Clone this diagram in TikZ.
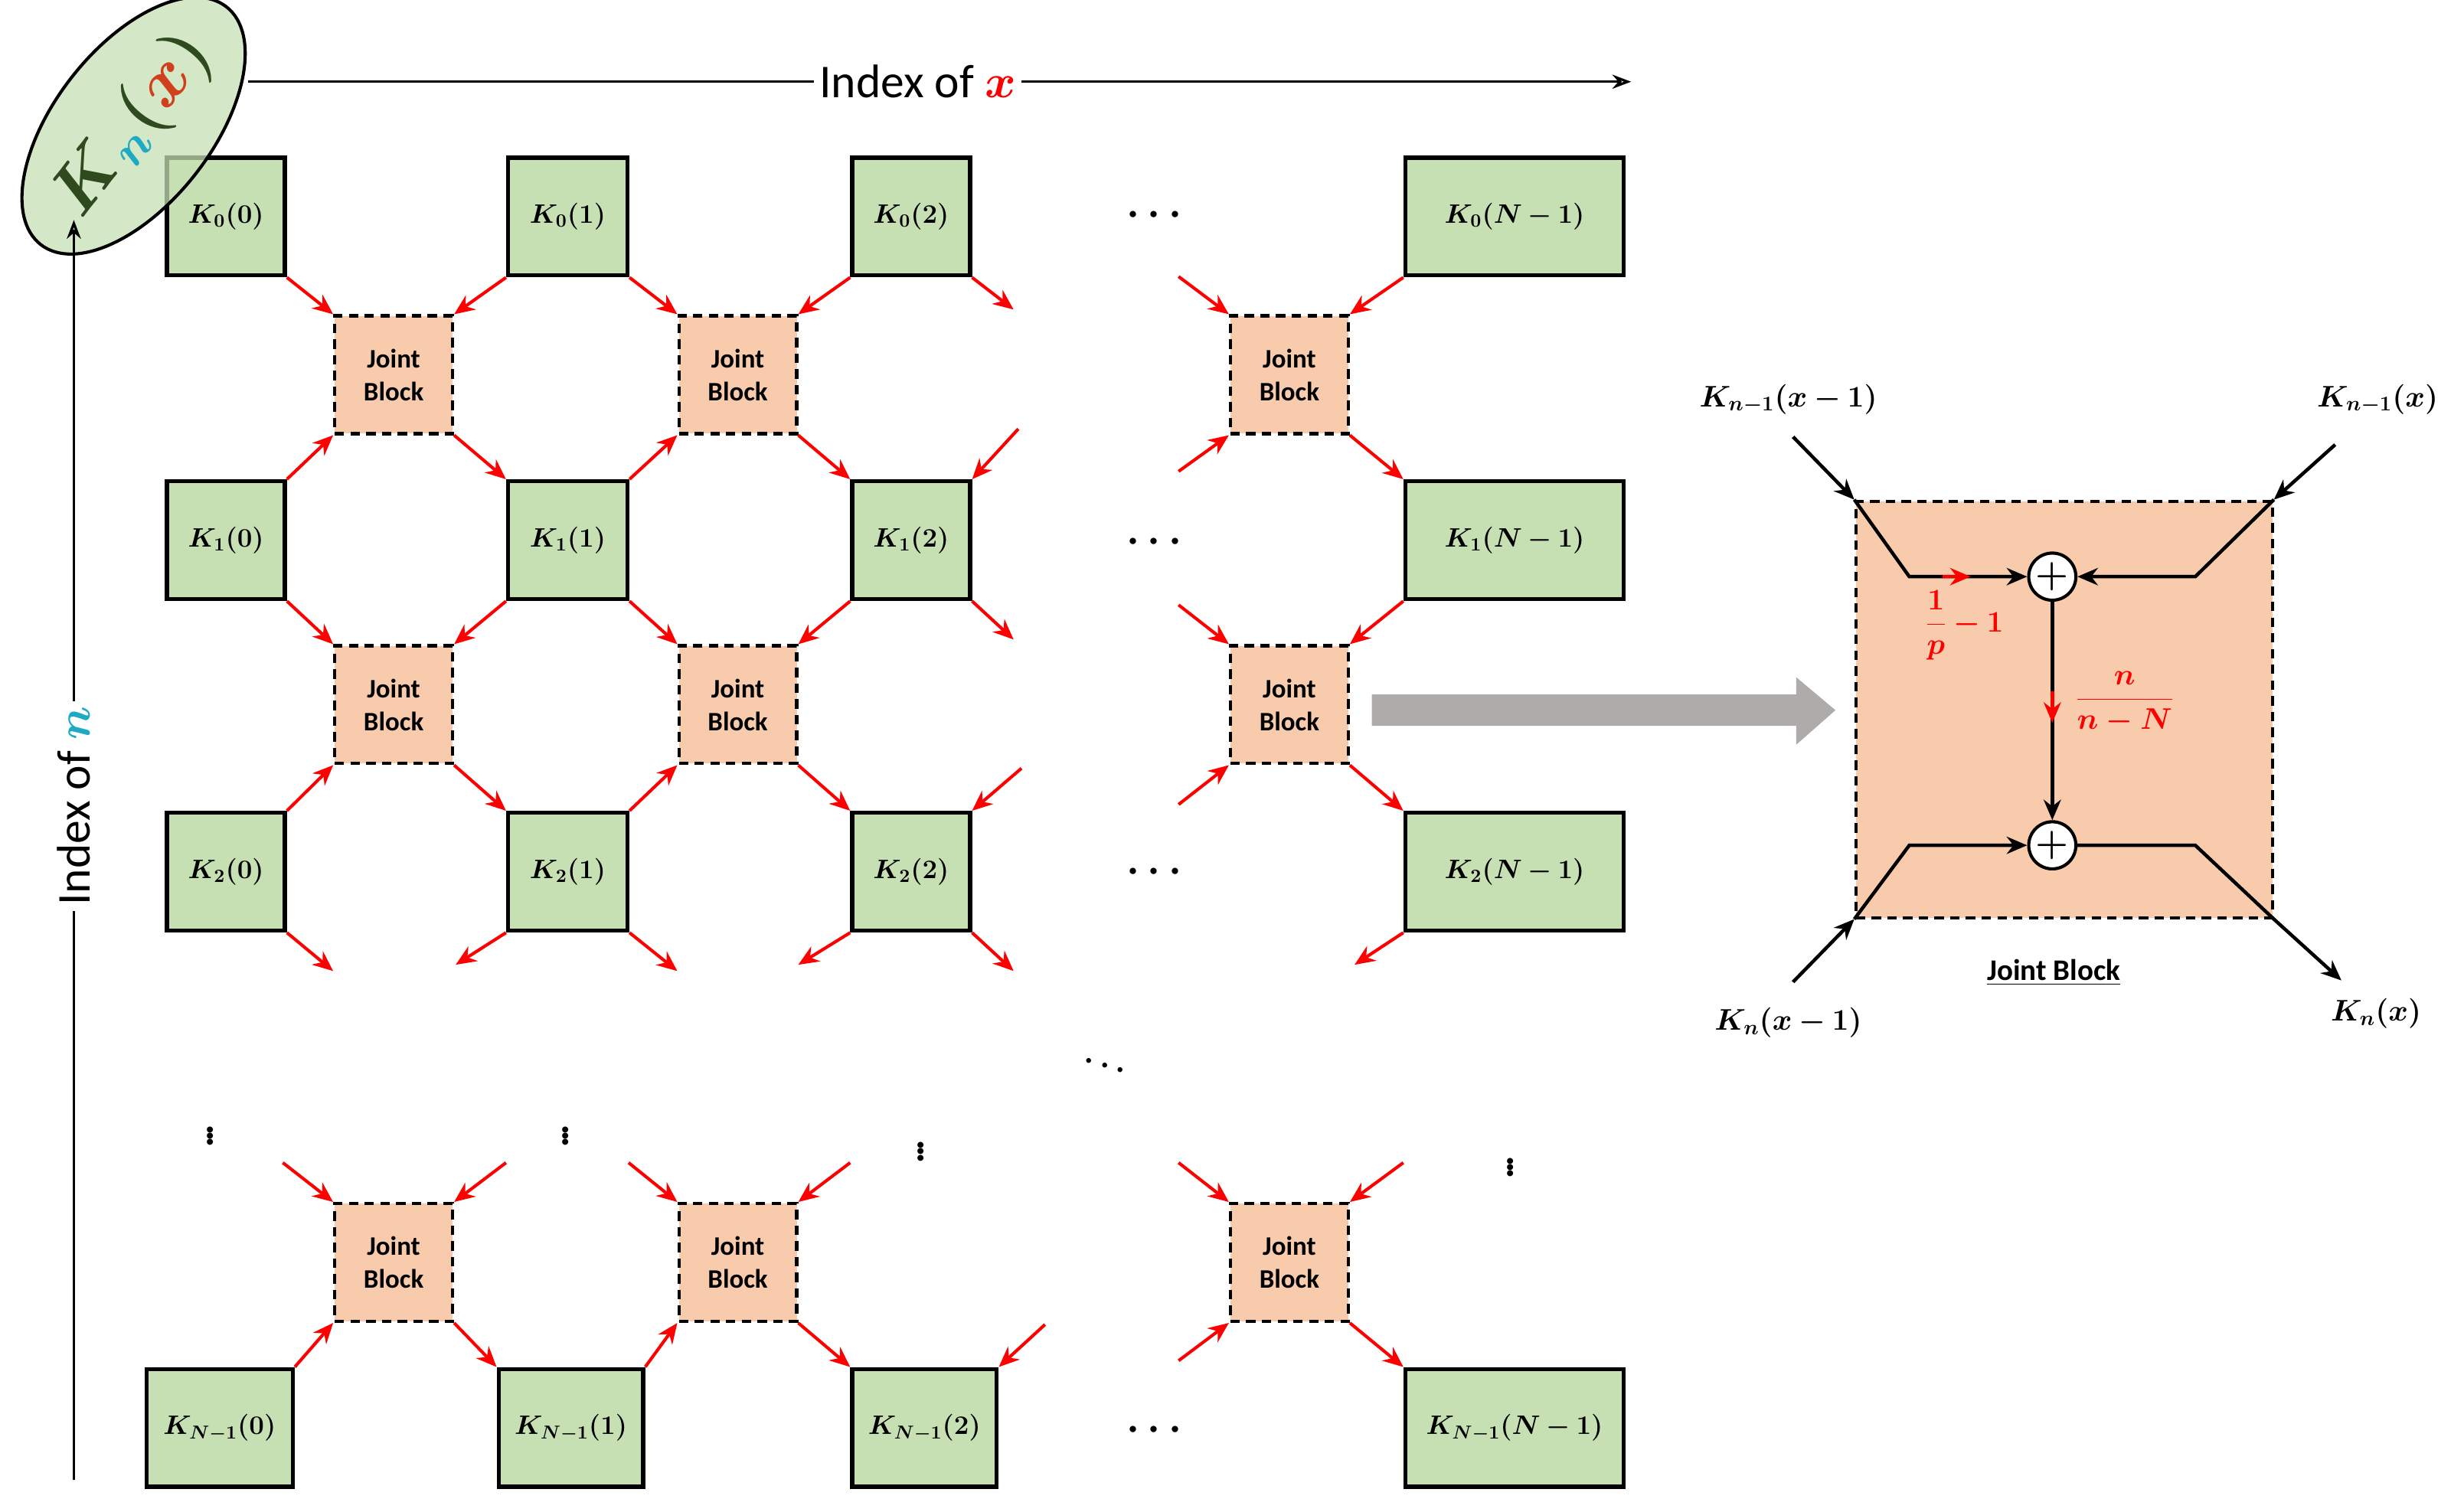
\RequirePackage{fix-cm}
\documentclass[tikz,border=0pt]{standalone}
\usepackage{amsmath,bm}
\usepackage{fontspec}
\setmainfont{Carlito}
\usetikzlibrary{arrows.meta,shapes.geometric}
\definecolor{gbox}{HTML}{C6E0B4}
\definecolor{obox}{HTML}{F8CBAD}
\definecolor{kgreen}{HTML}{2E4A1E}
\definecolor{kcyan}{HTML}{1FAAC4}
\definecolor{kred}{HTML}{D0401C}
\definecolor{garr}{HTML}{AFABAB}
\begin{document}
\begin{tikzpicture}[x=1pt,y=-1pt,
  gb/.style={draw,line width=2.6pt,fill=gbox,anchor=north west,inner sep=0pt,font=\fontsize{17}{20}\selectfont},
  jb/.style={draw,line width=2pt,dashed,dash pattern=on 6pt off 4pt,fill=obox,anchor=north west,minimum width=75pt,minimum height=75pt,inner sep=0pt,align=center,font=\bfseries\fontsize{17}{21}\selectfont},
  ra/.style={red,line width=2pt,-{Stealth[length=13pt,width=11pt]}},
  ba/.style={black,line width=2.2pt,-{Stealth[length=13pt,width=11pt]}},
  bl/.style={black,line width=2.2pt},
  dt/.style={font=\fontsize{26}{26}\selectfont,inner sep=0pt},
  sm/.style={draw,circle,line width=2pt,fill=white,minimum size=30pt,inner sep=0pt,font=\fontsize{24}{24}\selectfont}]
\useasboundingbox (0,0) rectangle (1568,962);
% boxes
\foreach \r/\y in {0/99,1/305,2/516}{
  \node[gb,minimum width=75pt,minimum height=75pt] (b\r0) at (105,\y) {$\bm{K_{\r}(0)}$};
  \node[gb,minimum width=76pt,minimum height=75pt] (b\r1) at (322,\y) {$\bm{K_{\r}(1)}$};
  \node[gb,minimum width=75pt,minimum height=75pt] (b\r2) at (541,\y) {$\bm{K_{\r}(2)}$};
  \node[gb,minimum width=139pt,minimum height=75pt] (b\r3) at (893,\y) {$\bm{K_{\r}(N-1)}$};
}
\node[gb,minimum width=93pt,minimum height=75pt] (b30) at (92,870) {$\bm{K_{N-1}(0)}$};
\node[gb,minimum width=92pt,minimum height=75pt] (b31) at (316,870) {$\bm{K_{N-1}(1)}$};
\node[gb,minimum width=92pt,minimum height=75pt] (b32) at (541,870) {$\bm{K_{N-1}(2)}$};
\node[gb,minimum width=139pt,minimum height=75pt] (b33) at (893,870) {$\bm{K_{N-1}(N-1)}$};
% joint blocks
\foreach \r/\y in {0/200,1/410,2/765}{
  \node[jb] (j\r0) at (212,\y) {Joint\\Block};
  \node[jb] (j\r1) at (431,\y) {Joint\\Block};
  \node[jb] (j\r2) at (782,\y) {Joint\\Block};
}
% row 0/1 joints
\foreach \r/\s in {0/1,1/2}{
  \draw[ra] (b\r0.south east) -- (j\r0.north west);
  \draw[ra] (b\r1.south west) -- (j\r0.north east);
  \draw[ra] (b\s0.north east) -- (j\r0.south west);
  \draw[ra] (j\r0.south east) -- (b\s1.north west);
  \draw[ra] (b\r1.south east) -- (j\r1.north west);
  \draw[ra] (b\r2.south west) -- (j\r1.north east);
  \draw[ra] (b\s1.north east) -- (j\r1.south west);
  \draw[ra] (j\r1.south east) -- (b\s2.north west);
  \draw[ra] (b\r3.south west) -- (j\r2.north east);
  \draw[ra] (j\r2.south east) -- (b\s3.north west);
}
\coordinate (f1) at (645,197); \coordinate (f2) at (750,176);
\coordinate (f3) at (648,273); \coordinate (f4) at (750,300);
\coordinate (f5) at (645,407); \coordinate (f6) at (750,385);
\coordinate (f7) at (650,489); \coordinate (f8) at (750,512);
\draw[ra] (b02.south east) -- (f1); \draw[ra] (f2) -- (j02.north west);
\draw[ra] (f3) -- (b12.north east); \draw[ra] (f4) -- (j02.south west);
\draw[ra] (b12.south east) -- (f5); \draw[ra] (f6) -- (j12.north west);
\draw[ra] (f7) -- (b22.north east); \draw[ra] (f8) -- (j12.south west);
% below row 2
\coordinate (g1) at (212,618); \coordinate (g2) at (290,614);
\coordinate (g3) at (431,618); \coordinate (g4) at (508,614);
\coordinate (g5) at (645,618); \coordinate (g6) at (862,614);
\draw[ra] (b20.south east) -- (g1); \draw[ra] (b21.south west) -- (g2);
\draw[ra] (b21.south east) -- (g3); \draw[ra] (b22.south west) -- (g4);
\draw[ra] (b22.south east) -- (g5); \draw[ra] (b23.south west) -- (g6);
% bottom row joints
\coordinate (h1) at (180,740); \coordinate (h2) at (322,740);
\coordinate (h3) at (400,740); \coordinate (h4) at (541,740);
\coordinate (h5) at (750,740); \coordinate (h6) at (893,740);
\coordinate (h7) at (665,843); \coordinate (h8) at (750,866);
\draw[ra] (h1) -- (j20.north west); \draw[ra] (h2) -- (j20.north east);
\draw[ra] (h3) -- (j21.north west); \draw[ra] (h4) -- (j21.north east);
\draw[ra] (h5) -- (j22.north west); \draw[ra] (h6) -- (j22.north east);
\draw[ra] (b30.north east) -- (j20.south west); \draw[ra] (j20.south east) -- (b31.north west);
\draw[ra] (b31.north east) -- (j21.south west); \draw[ra] (j21.south east) -- (b32.north west);
\draw[ra] (h7) -- (b32.north east); \draw[ra] (h8) -- (j22.south west);
\draw[ra] (j22.south east) -- (b33.north west);
% dots
\foreach \y/\n in {137/d0,345/d1,555/d2,910/d3}{\node[dt] (\n) at (737,\y) {$\bm{\cdots}$};}
\node[dt] (v0) at (134,720) {$\bm{\vdots}$};
\node[dt] (v1) at (360,720) {$\bm{\vdots}$};
\node[dt] (v2) at (586,730) {$\bm{\vdots}$};
\node[dt] (v3) at (961,740) {$\bm{\vdots}$};
\node[dt] (dd) at (703,675) {$\bm{\ddots}$};
% ellipse
\node[ellipse,draw,line width=2pt,fill=gbox,fill opacity=0.75,text opacity=1,minimum width=185pt,minimum height=100pt,rotate=52,inner sep=0pt,font=\fontsize{44}{44}\selectfont] (el) at (85,80)
  {$\textcolor{kgreen}{\bm{K}}_{\textcolor{kcyan}{\bm{n}}}\textcolor{kgreen}{\bm{(}}\textcolor{kred}{\bm{x}}\textcolor{kgreen}{\bm{)}}$};
% index axes
\coordinate (xs) at (158,52); \coordinate (xe) at (1038,52);
\node[font=\fontsize{30}{32}\selectfont] (ix) at (584,52) {Index of \textcolor{red}{$\bm{x}$}};
\draw[line width=1.6pt] (xs) -- (ix.west);
\draw[line width=1.6pt,-{Stealth[length=12pt,width=9pt,open]}] (ix.east) -- (xe);
\coordinate (ns) at (47,942); \coordinate (ne) at (47,140);
\node[font=\fontsize{30}{32}\selectfont,rotate=90] (in) at (47,513) {Index of \textcolor{kcyan}{$\bm{n}$}};
\draw[line width=1.6pt] (ns) -- (in.west);
\draw[line width=1.6pt,-{Stealth[length=12pt,width=9pt,open]}] (in.east) -- (ne);
% grey arrow
\fill[garr] (873,442) -- (1143,442) -- (1143,431) -- (1168,452) -- (1143,474) -- (1143,462) -- (873,462) -- cycle;
% detail
\node[draw,dashed,dash pattern=on 6pt off 4pt,line width=2pt,fill=obox,anchor=north west,minimum width=265pt,minimum height=265pt,inner sep=0pt] (db) at (1180,318) {};
\node[sm] (s1) at (1306,367) {$\bm{+}$};
\node[sm] (s2) at (1306,538) {$\bm{+}$};
\node[font=\fontsize{19}{20}\selectfont] (l1) at (1138,254) {$\bm{K_{n-1}(x-1)}$};
\node[font=\fontsize{19}{20}\selectfont] (l2) at (1513,254) {$\bm{K_{n-1}(x)}$};
\node[font=\fontsize{19}{20}\selectfont] (l3) at (1138,651) {$\bm{K_{n}(x-1)}$};
\node[font=\fontsize{19}{20}\selectfont] (l4) at (1512,645) {$\bm{K_{n}(x)}$};
\coordinate (a1) at (1141,278); \coordinate (a2) at (1486,283);
\coordinate (a3) at (1141,625); \coordinate (a4) at (1490,624);
\draw[ba] (a1) -- (db.north west);
\draw[ba] (db.north west) -- (1215,367) -- (s1.west);
\draw[red,line width=2.2pt,-{Stealth[length=13pt,width=11pt]}] (1236,367) -- (1254,367);
\draw[ba] (a2) -- (db.north east);
\draw[ba] (db.north east) -- (1397,367) -- (s1.east);
\draw[ba] (s1.south) -- (s2.north);
\draw[red,line width=2.2pt,-{Stealth[length=13pt,width=11pt]}] (1306,440) -- (1306,460);
\draw[ba] (a3) -- (db.south west);
\draw[ba] (db.south west) -- (1215,538) -- (s2.west);
\draw[bl] (s2.east) -- (1397,538) -- (db.south east);
\draw[ba] (db.south east) -- (a4);
\node[red,font=\fontsize{19}{20}\selectfont] (fr1) at (1250,398) {$\bm{\dfrac{1}{p}-1}$};
\node[red,font=\fontsize{19}{20}\selectfont] (fr2) at (1352,447) {$\bm{\dfrac{n}{n-N}}$};
\node[font=\bfseries\fontsize{19}{20}\selectfont] (jl) at (1307,619) {\underline{Joint Block}};
\end{tikzpicture}
\end{document}
